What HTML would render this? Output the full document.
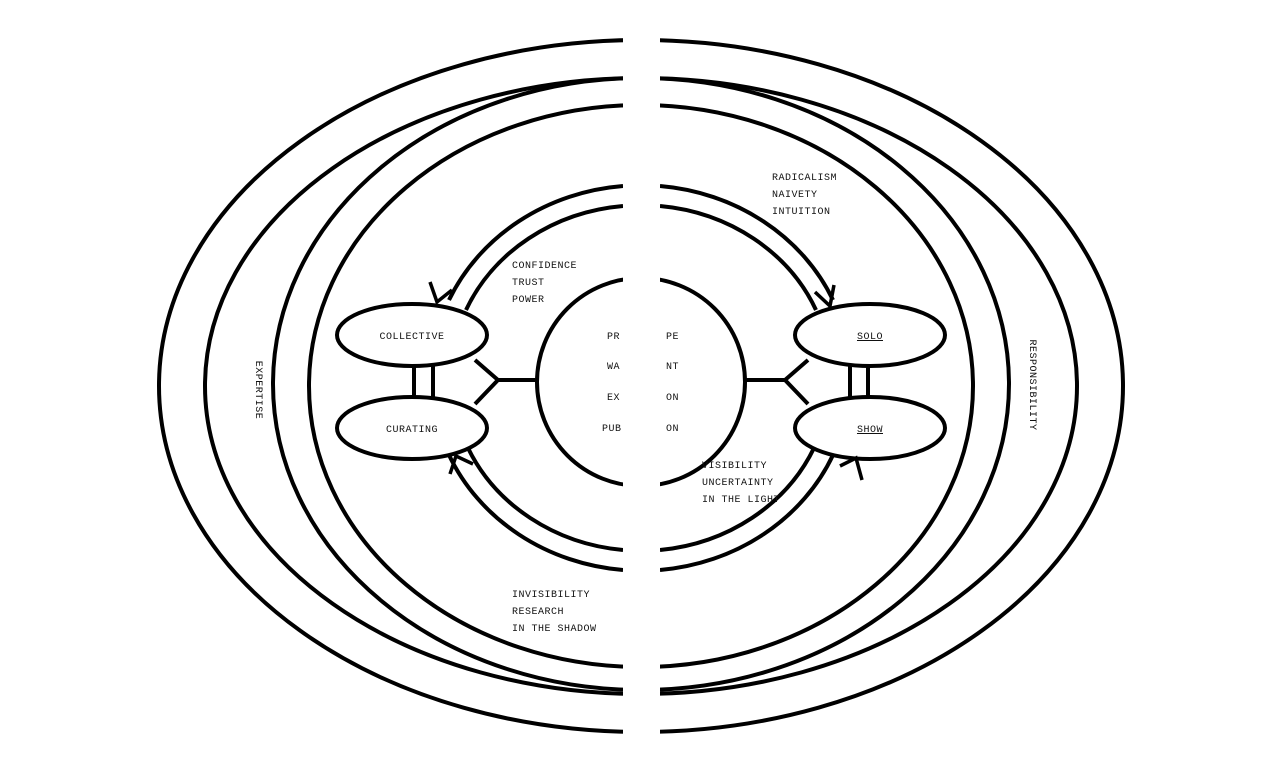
<!DOCTYPE html>
<html><head><meta charset="utf-8"><style>
html,body{margin:0;padding:0;background:#fff;}
svg{display:block}
text{font-family:"Liberation Mono",monospace;font-size:10px;fill:#111;letter-spacing:0.5px}
</style></head><body>
<svg width="1280" height="766" viewBox="0 0 1280 766" xmlns="http://www.w3.org/2000/svg">
<rect width="1280" height="766" fill="#fff"/>
<g fill="none" stroke="#000" stroke-width="4">
<!-- outer ellipses -->
<ellipse cx="641" cy="386" rx="482" ry="346"/>
<ellipse cx="641" cy="386" rx="436" ry="308"/>
<ellipse cx="641" cy="384" rx="368" ry="306"/>
<ellipse cx="641" cy="386" rx="332" ry="281"/>
<!-- inner arcs -->
<path d="M623 186 A210 192 0 0 0 449 300"/>
<path d="M623 206 A190 172 0 0 0 466 310"/>
<path d="M623 570 A210 192 0 0 1 449 455"/>
<path d="M623 550 A190 172 0 0 1 468 448"/>
<path d="M660 186 A210 192 0 0 1 833 300"/>
<path d="M660 206 A190 172 0 0 1 816 310"/>
<path d="M660 570 A210 192 0 0 0 833 455"/>
<path d="M660 550 A190 172 0 0 0 814 448"/>
<!-- center circle -->
<circle cx="641" cy="382" r="104"/>
<!-- connectors -->
<path d="M475 360 L498 380 L475 404 M498 380 L537 380"/>
<path d="M808 360 L785 380 L808 404 M785 380 L745 380"/>
<path d="M414 362 V400 M433 362 V400"/>
<path d="M850 362 V400 M868 362 V400"/>
</g>
<g fill="#fff" stroke="#000" stroke-width="4">
<ellipse cx="412" cy="335" rx="75" ry="31"/>
<ellipse cx="412" cy="428" rx="75" ry="31"/>
<ellipse cx="870" cy="335" rx="75" ry="31"/>
<ellipse cx="870" cy="428" rx="75" ry="31"/>
</g>
<g fill="none" stroke="#000" stroke-width="3.5">
<path d="M430 282 L437 302 L452 290"/>
<path d="M450 474 L456 456 L473 464"/>
<path d="M815 292 L830 306 L834 285"/>
<path d="M840 466 L856 458 L862 480"/>
</g>
<rect x="623" y="0" width="37" height="766" fill="#fff"/>
<text x="412" y="339" text-anchor="middle">COLLECTIVE</text>
<text x="412" y="432" text-anchor="middle">CURATING</text>
<text x="870" y="339" text-anchor="middle" text-decoration="underline">SOLO</text>
<text x="870" y="432" text-anchor="middle" text-decoration="underline">SHOW</text>
<text x="607" y="339">PR</text><text x="666" y="339">PE</text>
<text x="607" y="369">WA</text><text x="666" y="369">NT</text>
<text x="607" y="400">EX</text><text x="666" y="400">ON</text>
<text x="602" y="431">PUB</text><text x="666" y="431">ON</text>
<text x="512" y="268">CONFIDENCE</text>
<text x="512" y="285">TRUST</text>
<text x="512" y="302">POWER</text>
<text x="772" y="180">RADICALISM</text>
<text x="772" y="197">NAIVETY</text>
<text x="772" y="214">INTUITION</text>
<text x="702" y="468">VISIBILITY</text>
<text x="702" y="485">UNCERTAINTY</text>
<text x="702" y="502">IN THE LIGHT</text>
<text x="512" y="597">INVISIBILITY</text>
<text x="512" y="614">RESEARCH</text>
<text x="512" y="631">IN THE SHADOW</text>
<text transform="translate(256,390) rotate(90)" text-anchor="middle">EXPERTISE</text>
<text transform="translate(1030,385) rotate(90)" text-anchor="middle">RESPONSIBILITY</text>
</svg>
</body></html>
